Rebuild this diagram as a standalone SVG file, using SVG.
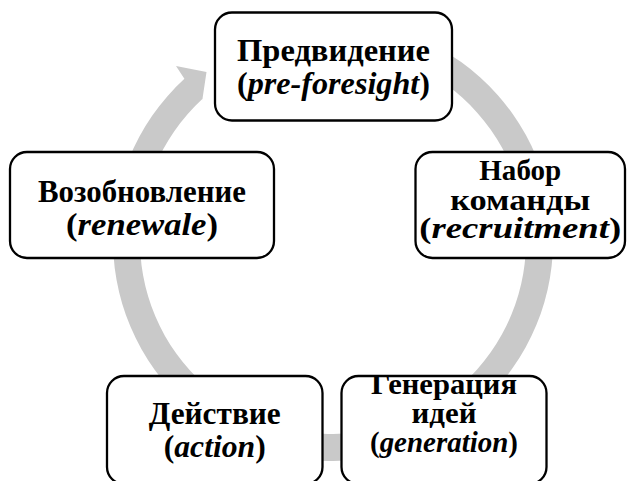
<svg xmlns="http://www.w3.org/2000/svg" width="627" height="481" viewBox="0 0 627 481">
<style>
.box{fill:#fff;stroke:#000;stroke-width:2.3}
.ring{fill:#c9c9c9;stroke:none}
.t{font-family:'Liberation Serif','Times New Roman',serif;font-weight:bold;text-anchor:middle;fill:#000}
.l{font-size:32px}
.s{font-size:28.5px}
.i{font-style:italic}
</style>
<rect width="627" height="481" fill="#fff"/>
<g id="connectors">
<path class="ring" d="M 371.2 24.3 A 220 220 0 1 1 184.4 78.8 L 176 66 L 206.5 72 L 202 102 L 202.6 98.7 A 193 193 0 1 0 366.5 50.9 Z"/>
</g>
<g id="node-foresight">
<rect class="box" x="215" y="12.5" width="237" height="108" rx="17"/>
<text class="t l" x="333.5" y="61" textLength="193" lengthAdjust="spacingAndGlyphs">Предвидение</text>
<text class="t l" x="333.5" y="94" textLength="193" lengthAdjust="spacingAndGlyphs">(<tspan class="i">pre-foresight</tspan>)</text>
</g>
<g id="node-recruitment">
<rect class="box" x="415.5" y="152" width="209.5" height="106" rx="17"/>
<text class="t s" x="520.25" y="179.5" textLength="82" lengthAdjust="spacingAndGlyphs">Набор</text>
<text class="t s" x="520.25" y="209.5" textLength="140" lengthAdjust="spacingAndGlyphs">команды</text>
<text class="t s" x="520.25" y="238" textLength="202" lengthAdjust="spacingAndGlyphs">(<tspan class="i">recruitment</tspan>)</text>
</g>
<g id="node-generation">
<rect class="box" x="341.5" y="376" width="205" height="108" rx="17"/>
<text class="t s" x="444" y="393.5" textLength="146" lengthAdjust="spacingAndGlyphs">Генерация</text>
<text class="t s" x="444" y="423" textLength="65" lengthAdjust="spacingAndGlyphs">идей</text>
<text class="t s" x="444" y="452" textLength="148" lengthAdjust="spacingAndGlyphs">(<tspan class="i">generation</tspan>)</text>
</g>
<g id="node-action">
<rect class="box" x="107" y="376" width="215.5" height="108" rx="17"/>
<text class="t l" x="214.75" y="423.5" textLength="132" lengthAdjust="spacingAndGlyphs">Действие</text>
<text class="t l" x="214.75" y="457" textLength="102" lengthAdjust="spacingAndGlyphs">(<tspan class="i">action</tspan>)</text>
</g>
<g id="node-renewale">
<rect class="box" x="10" y="152" width="264" height="106" rx="17"/>
<text class="t l" x="142" y="202" textLength="208" lengthAdjust="spacingAndGlyphs">Возобновление</text>
<text class="t l" x="142" y="235" textLength="152" lengthAdjust="spacingAndGlyphs">(<tspan class="i">renewale</tspan>)</text>
</g>
</svg>
